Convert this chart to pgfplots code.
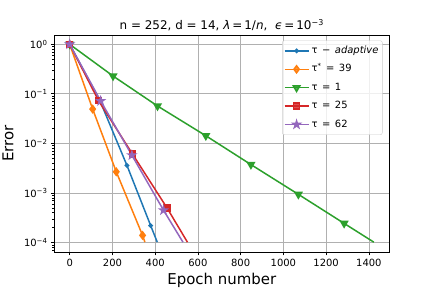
\documentclass[border=0pt]{standalone}
\usepackage{fontspec}
\setmainfont{DejaVu Sans}
\usepackage{pgfplots}
\pgfplotsset{compat=1.18}
\definecolor{c0}{HTML}{1F77B4}
\definecolor{c1}{HTML}{FF7F0E}
\definecolor{c2}{HTML}{2CA02C}
\definecolor{c3}{HTML}{D62728}
\definecolor{c4}{HTML}{9467BD}
\definecolor{gridc}{HTML}{B0B0B0}
\definecolor{legc}{HTML}{CCCCCC}
\pgfdeclareplotmark{fstar}{%
  \pgfpathmoveto{\pgfqpointpolar{90}{\pgfplotmarksize}}%
  \pgfpathlineto{\pgfqpointpolar{126}{0.382\pgfplotmarksize}}%
  \pgfpathlineto{\pgfqpointpolar{162}{\pgfplotmarksize}}%
  \pgfpathlineto{\pgfqpointpolar{198}{0.382\pgfplotmarksize}}%
  \pgfpathlineto{\pgfqpointpolar{234}{\pgfplotmarksize}}%
  \pgfpathlineto{\pgfqpointpolar{270}{0.382\pgfplotmarksize}}%
  \pgfpathlineto{\pgfqpointpolar{306}{\pgfplotmarksize}}%
  \pgfpathlineto{\pgfqpointpolar{342}{0.382\pgfplotmarksize}}%
  \pgfpathlineto{\pgfqpointpolar{18}{\pgfplotmarksize}}%
  \pgfpathlineto{\pgfqpointpolar{54}{0.382\pgfplotmarksize}}%
  \pgfpathclose
  \pgfusepathqfillstroke}
\newcommand{\eq}{\hspace{0.45em}=\hspace{0.45em}}
\begin{document}
\begin{tikzpicture}
\path[use as bounding box] (0,0) rectangle (432bp,288bp);
\begin{axis}[
  at={(54.5bp,36bp)}, anchor=south west,
  width=334.5bp, height=217bp, scale only axis,
  ymode=log,
  xmin=-71, xmax=1494, ymin=6.46e-5, ymax=1.54,
  xtick={0,200,400,600,800,1000,1200,1400},
  xticklabels={0,200,400,600,800,1000,1200,1400},
  ytick={1e-4,1e-3,1e-2,1e-1,1},
  yticklabels={10\textsuperscript{−4},10\textsuperscript{−3},10\textsuperscript{−2},10\textsuperscript{−1},10\textsuperscript{0}},
  minor ytick={7e-5,8e-5,9e-5,2e-4,3e-4,4e-4,5e-4,6e-4,7e-4,8e-4,9e-4,2e-3,3e-3,4e-3,5e-3,6e-3,7e-3,8e-3,9e-3,2e-2,3e-2,4e-2,5e-2,6e-2,7e-2,8e-2,9e-2,0.2,0.3,0.4,0.5,0.6,0.7,0.8,0.9},
  tick pos=left, tick align=outside,
  major tick length=3.5bp, minor tick length=2bp,
  every major tick/.append style={black, line width=0.8bp},
  every minor tick/.append style={black, line width=0.6bp},
  axis line style={line width=0.8bp},
  grid=major, major grid style={color=gridc, line width=0.8bp},
  ticklabel style={font=\fontsize{10}{12}\selectfont},
  legend cell align=left,
  legend image code/.code={\draw[#1, mark indices={2}] plot coordinates {(0bp,0bp) (12bp,0bp) (24bp,0bp)};},
  legend style={at={(1,1)}, anchor=north east, xshift=-6.5bp, yshift=-5.5bp,
    draw=legc, fill=white, fill opacity=0.8, text opacity=1, rounded corners=2bp,
    font=\fontsize{10}{12}\selectfont, inner xsep=1.5bp, inner ysep=1bp, row sep=0pt,
    nodes={inner ysep=4.4bp, inner xsep=2.3bp, text height=7.3bp, text depth=2.3bp}},
  every axis plot/.append style={line width=1.5bp},
]
\addplot[color=c0, mark=*, mark size=1.6bp, mark options={solid}, mark indices={1,2,3,4}]
  coordinates {(0,1) (142,0.072) (268,0.0036) (379,2.2e-4) (410,1.02e-4)};
\addlegendentry{τ\hspace{0.45em}−\hspace{0.45em}\textit{adaptive}}
\addplot[color=c1, mark=diamond*, mark size=3.5bp, mark options={solid}, mark indices={1,2,3,4}]
  coordinates {(0,1) (107.5,0.0494) (218,0.00268) (341,1.4e-4) (352,1.02e-4)};
\addlegendentry{τ\textsuperscript{*}\eq 39}
\addplot[color=c2, mark=triangle*, mark size=3.8bp, mark options={solid, rotate=180}, mark indices={1,2,3,4,5,6,7}]
  coordinates {(0,1) (203,0.229) (411,0.0569) (637,0.0143) (848,0.00375) (1070,0.00094) (1284,2.44e-4) (1423,1.02e-4)};
\addlegendentry{τ\eq 1}
\addplot[color=c3, mark=square*, mark size=3bp, mark options={solid}, mark indices={1,2,3,4}]
  coordinates {(0,1) (135,0.073) (294,0.0061) (455,5.04e-4) (551,1.02e-4)};
\addlegendentry{τ\eq 25}
\addplot[color=c4, mark=fstar, mark size=3.6bp, mark options={solid}, mark indices={1,2,3,4}]
  coordinates {(0,1) (145,0.072) (291,0.0058) (439,4.5e-4) (530,1.02e-4)};
\addlegendentry{τ\eq 62}
\end{axis}
\node[anchor=base, font=\fontsize{12}{14}\selectfont] at (221.75bp,258bp)
  {n = 252, d = 14, \textit{λ}\,=\,1/\textit{n}, \ \textit{ϵ}\,=\,10\textsuperscript{−3}};
\node[anchor=base, font=\fontsize{15}{18}\selectfont] at (221.75bp,3.7bp) {Epoch number};
\node[anchor=base, rotate=90, font=\fontsize{15}{18}\selectfont] at (13.3bp,144.5bp) {Error};
\end{tikzpicture}
\end{document}
